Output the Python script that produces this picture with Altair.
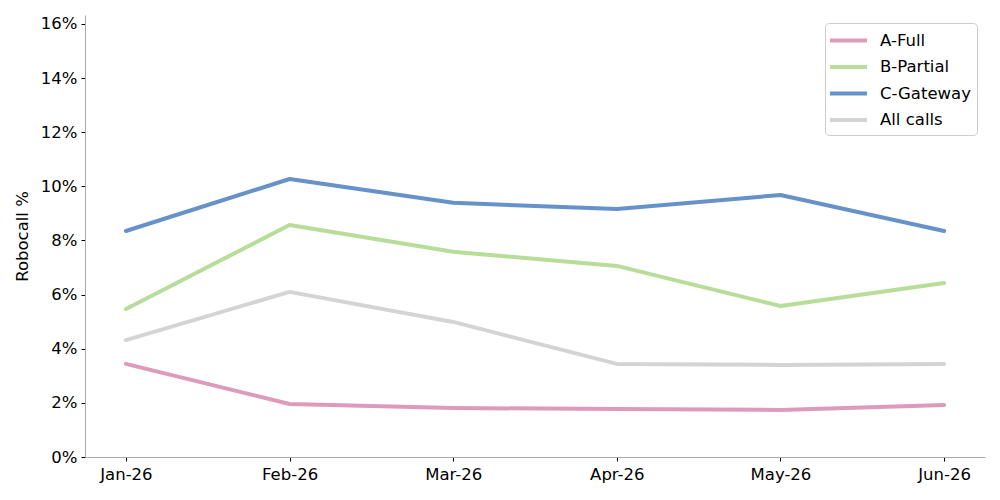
import altair as alt
import pandas as pd

months = ["Jan-26", "Feb-26", "Mar-26", "Apr-26", "May-26", "Jun-26"]
series_names = ["A-Full", "B-Partial", "C-Gateway", "All calls"]
a_full = [3.44, 1.96, 1.81, 1.77, 1.74, 1.92]
b_partial = [5.47, 8.57, 7.58, 7.06, 5.58, 6.43]
c_gateway = [8.35, 10.27, 9.39, 9.16, 9.68, 8.35]
all_calls = [4.32, 6.10, 4.99, 3.44, 3.40, 3.44]
colors = ["#dd9abb", "#b7dd98", "#6692c9", "#d4d4d4"]
y_ticks = [0, 0.02, 0.04, 0.06, 0.08, 0.10, 0.12, 0.14, 0.16]

rows = []
for name, vals in zip(series_names, [a_full, b_partial, c_gateway, all_calls]):
    for m, v in zip(months, vals):
        rows.append({"month": m, "series": name, "value": v / 100.0,
                     "order": series_names.index(name)})
df = pd.DataFrame(rows)

font = "DejaVu Sans"
fs = 16.5

chart = alt.Chart(df).mark_line(strokeWidth=4, strokeCap="round", strokeJoin="round").encode(
    x=alt.X("month:N", sort=months,
            scale=alt.Scale(type="point", padding=0.25),
            axis=alt.Axis(title=None, labelAngle=0, labelFontSize=fs, labelFont=font,
                          labelColor="#000000", tickColor="#000000", tickSize=4,
                          domainColor="#aaaaaa", grid=False, labelPadding=5)),
    y=alt.Y("value:Q",
            scale=alt.Scale(domain=[0, 0.1633], nice=False, zero=True),
            axis=alt.Axis(title="Robocall %", values=y_ticks, format=".0%",
                          labelFontSize=fs, labelFont=font, labelColor="#000000",
                          tickColor="#000000", tickSize=4, domainColor="#aaaaaa",
                          grid=False, titleFontSize=fs, titleFont=font,
                          titleFontWeight="normal", titleColor="#000000",
                          titlePadding=10, labelPadding=4)),
    color=alt.Color("series:N", sort=series_names,
                    scale=alt.Scale(domain=series_names, range=colors),
                    legend=alt.Legend(title=None, orient="none", legendX=740, legendY=8,
                                      symbolType="M-2,0L2,0", symbolStrokeWidth=4,
                                      symbolSize=342, labelFontSize=fs, labelFont=font,
                                      labelColor="#000000", fillColor="#ffffff",
                                      strokeColor="#cccccc", cornerRadius=4,
                                      padding=6, rowPadding=6.5, labelOffset=20,
                                      symbolOffset=6)),
    order=alt.Order("order:Q"),
).properties(
    width=900, height=442,
    background="#ffffff",
    autosize=alt.AutoSizeParams(type="none"),
    padding={"left": 85, "top": 15, "right": 15, "bottom": 43},
).configure_view(stroke=None)

chart.save("out.html", embed_options={"renderer": "svg", "actions": False})
